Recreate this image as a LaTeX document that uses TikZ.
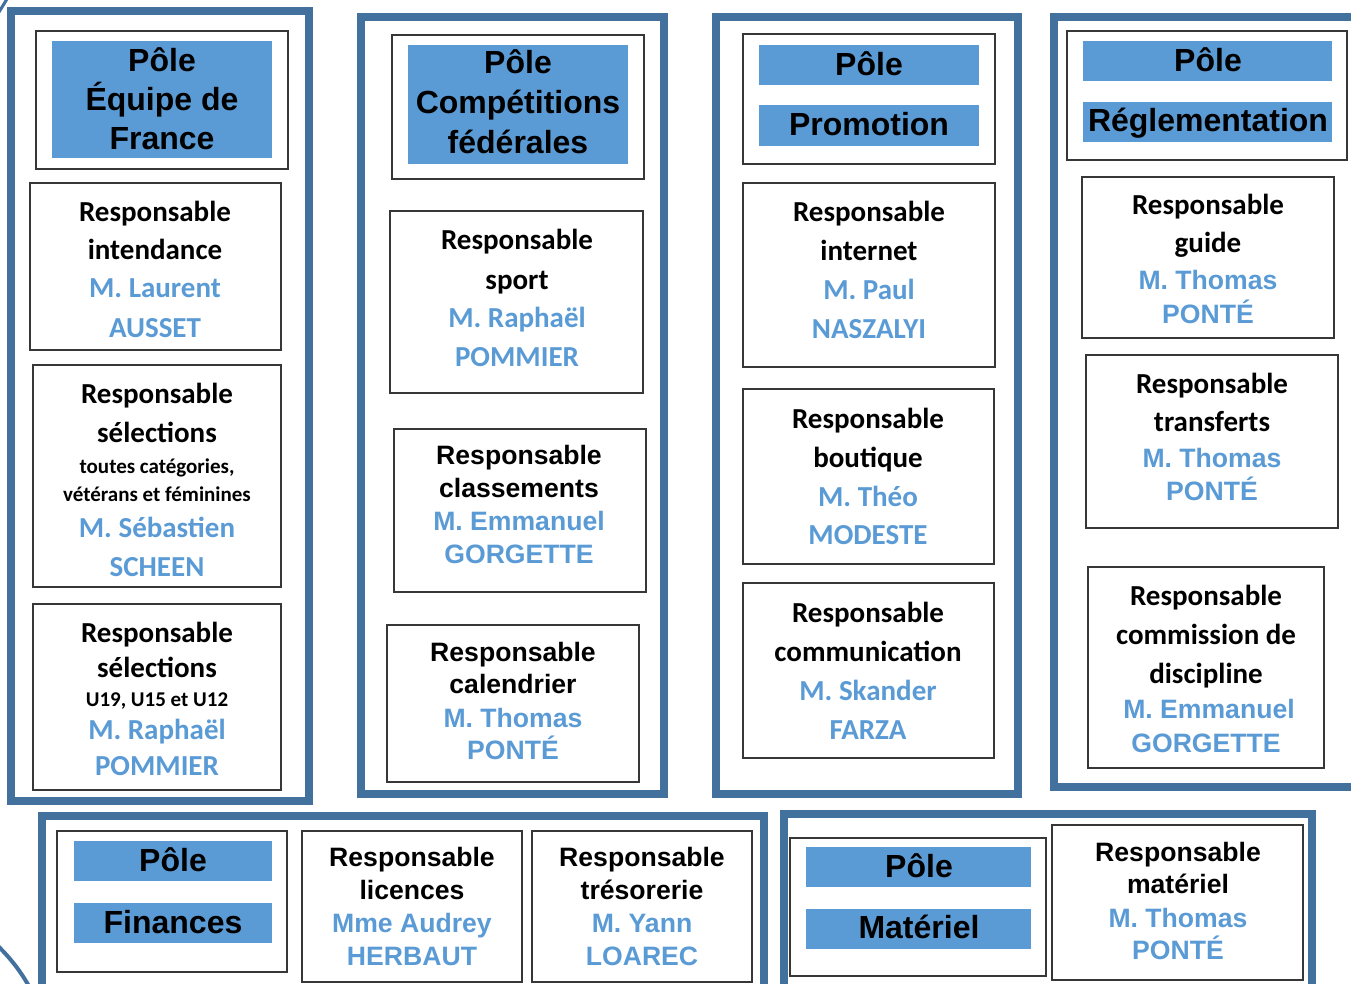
\documentclass[tikz,border=0pt]{standalone}
\usepackage{fontspec}
\newfontfamily\calfont{Carlito}
\newfontfamily\arifont{Liberation Sans}
\definecolor{framec}{RGB}{65,113,156}
\definecolor{accent}{RGB}{91,155,213}
\definecolor{boxc}{RGB}{55,55,55}
\tikzset{
 frame/.style={draw=framec, line width=8pt},
 box/.style={draw=boxc, line width=1.3pt, fill=white},
 bar/.style={fill=accent},
 ttl/.style={font=\arifont\bfseries\fontsize{32pt}{32pt}\selectfont, anchor=base, inner sep=0pt},
 cb/.style={font=\calfont\bfseries\fontsize{29pt}{29pt}\selectfont, anchor=base, inner sep=0pt},
 cs/.style={font=\calfont\bfseries\fontsize{21pt}{21pt}\selectfont, anchor=base, inner sep=0pt},
 ab/.style={font=\arifont\bfseries\fontsize{26.6pt}{26.6pt}\selectfont, anchor=base, inner sep=0pt},
 nm/.style={text=accent},
}
\newcommand\rbox[6][box]{\node[#1, anchor=north west, minimum width={(#5-#3)*1pt}, minimum height={(#6-#4)*1pt}, inner sep=0pt, outer sep=0pt] (#2) at (#3,#4) {};}
\newcommand\tl[5]{\node[#4] (#1) at (#2,#3) {#5};}
\begin{document}
\begin{tikzpicture}[x=1pt,y=-1pt]
\useasboundingbox (0,0) rectangle (1351,984);
\fill[white] (0,0) rectangle (1351,984);
\clip (0,0) rectangle (1351,984);
% decorative arcs
\draw[framec, line width=4pt] (-2,946) .. controls (10,958) and (20,970) .. (30,988);
\draw[framec, line width=3pt] (-1,12) -- (7,-1);
% frames
\rbox[frame]{f1}{11}{11}{309}{801}
\rbox[frame]{f2}{361}{17}{664}{794}
\rbox[frame]{f3}{716}{17}{1018}{794}
\rbox[frame]{f4}{1054}{17}{1380}{787}
\rbox[frame]{f5}{42}{816}{764}{1010}
\rbox[frame]{f6}{784}{814}{1312}{1010}
% column 1
\rbox{t1}{36}{31}{288}{169}
\rbox[bar]{t1bar}{52}{41}{272}{158}
\tl{t1a}{162}{72}{ttl}{Pôle}
\tl{t1b}{162}{111}{ttl}{Équipe de}
\tl{t1c}{162}{150}{ttl}{France}
\rbox{b11}{30}{183}{281}{350}
\tl{b11a}{155}{222}{cb}{Responsable}
\tl{b11b}{155}{260}{cb}{intendance}
\tl{b11c}{155}{298}{cb,nm}{M. Laurent}
\tl{b11d}{155}{337}{cb,nm}{AUSSET}
\rbox{b12}{33}{365}{281}{587}
\tl{b12a}{157}{403}{cb}{Responsable}
\tl{b12b}{157}{442}{cb}{sélections}
\tl{b12c}{157}{473}{cs}{toutes catégories,}
\tl{b12d}{157}{501}{cs}{vétérans et féminines}
\tl{b12e}{157}{537}{cb,nm}{M. Sébastien}
\tl{b12f}{157}{576}{cb,nm}{SCHEEN}
\rbox{b13}{33}{604}{281}{790}
\tl{b13a}{157}{642}{cb}{Responsable}
\tl{b13b}{157}{677}{cb}{sélections}
\tl{b13c}{157}{706}{cs}{U19, U15 et U12}
\tl{b13d}{157}{739}{cb,nm}{M. Raphaël}
\tl{b13e}{157}{775}{cb,nm}{POMMIER}
% column 2
\rbox{t2}{392}{35}{644}{179}
\rbox[bar]{t2bar}{408}{45}{628}{164}
\tl{t2a}{518}{74}{ttl}{Pôle}
\tl{t2b}{518}{114}{ttl}{Compétitions}
\tl{t2c}{518}{154}{ttl}{fédérales}
\rbox{b21}{390}{211}{643}{393}
\tl{b21a}{517}{250}{cb}{Responsable}
\tl{b21b}{517}{289}{cb}{sport}
\tl{b21c}{517}{327}{cb,nm}{M. Raphaël}
\tl{b21d}{517}{366}{cb,nm}{POMMIER}
\rbox{b22}{394}{429}{646}{592}
\tl{b22a}{519}{464}{ab}{Responsable}
\tl{b22b}{519}{497}{ab}{classements}
\tl{b22c}{519}{530}{ab,nm}{M. Emmanuel}
\tl{b22d}{519}{563}{ab,nm}{GORGETTE}
\rbox{b23}{387}{625}{639}{782}
\tl{b23a}{513}{661}{ab}{Responsable}
\tl{b23b}{513}{693}{ab}{calendrier}
\tl{b23c}{513}{727}{ab,nm}{M. Thomas}
\tl{b23d}{513}{759}{ab,nm}{PONTÉ}
% column 3
\rbox{t3}{743}{34}{995}{164}
\rbox[bar]{t3bar1}{759}{45}{979}{85}
\rbox[bar]{t3bar2}{759}{105}{979}{146}
\tl{t3a}{869}{76}{ttl}{Pôle}
\tl{t3b}{869}{136}{ttl}{Promotion}
\rbox{b31}{743}{183}{995}{367}
\tl{b31a}{869}{222}{cb}{Responsable}
\tl{b31b}{869}{261}{cb}{internet}
\tl{b31c}{869}{299}{cb,nm}{M. Paul}
\tl{b31d}{869}{338}{cb,nm}{NASZALYI}
\rbox{b32}{743}{389}{994}{564}
\tl{b32a}{868}{428}{cb}{Responsable}
\tl{b32b}{868}{467}{cb}{boutique}
\tl{b32c}{868}{506}{cb,nm}{M. Théo}
\tl{b32d}{868}{544}{cb,nm}{MODESTE}
\rbox{b33}{743}{583}{994}{758}
\tl{b33a}{868}{622}{cb}{Responsable}
\tl{b33b}{868}{661}{cb}{communication}
\tl{b33c}{868}{700}{cb,nm}{M. Skander}
\tl{b33d}{868}{739}{cb,nm}{FARZA}
% column 4
\rbox{t4}{1067}{31}{1347}{160}
\rbox[bar]{t4bar1}{1083}{41}{1332}{81}
\rbox[bar]{t4bar2}{1083}{102}{1332}{142}
\tl{t4a}{1208}{72}{ttl}{Pôle}
\tl{t4b}{1208}{132}{ttl}{Réglementation}
\rbox{b41}{1082}{177}{1334}{338}
\tl{b41a}{1208}{215}{cb}{Responsable}
\tl{b41b}{1208}{253}{cb}{guide}
\tl{b41c}{1208}{289}{ab,nm}{M. Thomas}
\tl{b41d}{1208}{323}{ab,nm}{PONTÉ}
\rbox{b42}{1086}{355}{1338}{528}
\tl{b42a}{1212}{393}{cb}{Responsable}
\tl{b42b}{1212}{431}{cb}{transferts}
\tl{b42c}{1212}{467}{ab,nm}{M. Thomas}
\tl{b42d}{1212}{500}{ab,nm}{PONTÉ}
\rbox{b43}{1088}{567}{1324}{768}
\tl{b43a}{1206}{605}{cb}{Responsable}
\tl{b43b}{1206}{644}{cb}{commission de}
\tl{b43c}{1206}{683}{cb}{discipline}
\tl{b43d}{1209}{718}{ab,nm}{M. Emmanuel}
\tl{b43e}{1206}{752}{ab,nm}{GORGETTE}
% finances
\rbox{t5}{57}{831}{287}{972}
\rbox[bar]{t5bar1}{74}{841}{272}{881}
\rbox[bar]{t5bar2}{74}{903}{272}{943}
\tl{t5a}{173}{871}{ttl}{Pôle}
\tl{t5b}{173}{933}{ttl}{Finances}
\rbox{b51}{302}{831}{522}{982}
\tl{b51a}{412}{866}{ab}{Responsable}
\tl{b51b}{412}{899}{ab}{licences}
\tl{b51c}{412}{932}{ab,nm}{Mme Audrey}
\tl{b51d}{412}{965}{ab,nm}{HERBAUT}
\rbox{b52}{532}{831}{752}{982}
\tl{b52a}{642}{866}{ab}{Responsable}
\tl{b52b}{642}{899}{ab}{trésorerie}
\tl{b52c}{642}{932}{ab,nm}{M. Yann}
\tl{b52d}{642}{965}{ab,nm}{LOAREC}
% materiel
\rbox{t6}{790}{838}{1046}{976}
\rbox[bar]{t6bar1}{806}{847}{1031}{887}
\rbox[bar]{t6bar2}{806}{909}{1031}{949}
\tl{t6a}{919}{877}{ttl}{Pôle}
\tl{t6b}{919}{938}{ttl}{Matériel}
\rbox{b61}{1052}{825}{1303}{980}
\tl{b61a}{1178}{861}{ab}{Responsable}
\tl{b61b}{1178}{893}{ab}{matériel}
\tl{b61c}{1178}{927}{ab,nm}{M. Thomas}
\tl{b61d}{1178}{959}{ab,nm}{PONTÉ}
\end{tikzpicture}
\end{document}
